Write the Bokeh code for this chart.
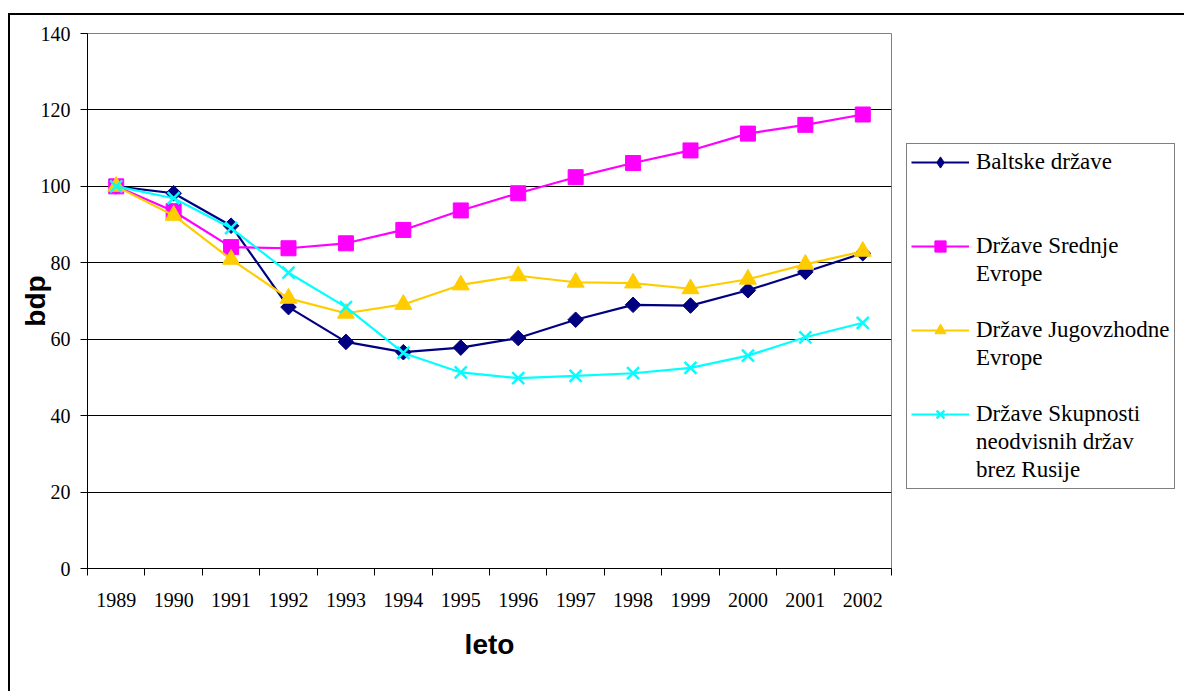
import math
from bokeh.plotting import figure
from bokeh.models import (Range1d, FixedTicker, Legend, LegendItem, InlineStyleSheet)
from bokeh.core.properties import value
from bokeh.embed import file_html
from bokeh.resources import INLINE

years = ["1989", "1990", "1991", "1992", "1993", "1994", "1995",
         "1996", "1997", "1998", "1999", "2000", "2001", "2002"]
baltske = [100, 98.2, 89.7, 68.4, 59.3, 56.6, 57.8, 60.3, 65.1, 69.0, 68.8, 72.8, 77.6, 82.5]
srednje = [100, 93.5, 84.1, 83.8, 85.1, 88.6, 93.7, 98.2, 102.4, 106.1, 109.4, 113.8, 116.1, 118.8]
jugovzhodne = [100, 92.4, 80.9, 70.7, 66.8, 69.1, 74.2, 76.6, 74.9, 74.7, 73.2, 75.7, 79.6, 83.0]
skupnost = [100, 96.9, 89.1, 77.4, 68.4, 56.4, 51.3, 49.8, 50.4, 51.1, 52.5, 55.7, 60.5, 64.3]
y_ticks = [0, 20, 40, 60, 80, 100, 120, 140]

xs = list(range(len(years)))
bounds = [i - 0.5 for i in range(len(years) + 1)]

border_css = InlineStyleSheet(css="""
:host::after {
  content: '';
  position: absolute;
  left: 8px; top: 13px; right: 0; bottom: 0;
  border-top: 2px solid #000;
  border-left: 2px solid #000;
  pointer-events: none;
  z-index: 10;
}
""")

p = figure(frame_width=804, frame_height=535, output_backend="svg", toolbar_location=None,
           x_range=Range1d(-0.5, len(years) - 0.5), y_range=Range1d(0, 140),
           min_border_left=87, min_border_right=293, min_border_top=33, min_border_bottom=123,
           stylesheets=[border_css])
p.outline_line_color = "#808080"
p.outline_line_width = 1

# axes
p.xaxis.ticker = FixedTicker(ticks=xs, minor_ticks=bounds)
p.xaxis.major_label_overrides = {i: y for i, y in zip(xs, years)}
p.xaxis.major_tick_line_color = None
p.xaxis.major_tick_out = 0
p.xaxis.major_tick_in = 0
p.xaxis.minor_tick_line_color = "black"
p.xaxis.minor_tick_out = 7
p.xaxis.minor_tick_in = 0
p.xaxis.major_label_standoff = 17
p.xaxis.axis_label = "leto"
p.xaxis.axis_label_standoff = 19

p.yaxis.ticker = FixedTicker(ticks=y_ticks)
p.yaxis.minor_tick_line_color = None
p.yaxis.major_tick_out = 7
p.yaxis.major_tick_in = 0
p.yaxis.major_label_standoff = 10
p.yaxis.axis_label = "bdp"
p.yaxis.axis_label_standoff = -13

for ax in (p.xaxis, p.yaxis):
    ax.axis_line_color = "black"
    ax.major_label_text_font = "Liberation Serif"
    ax.major_label_text_font_size = "20px"
    ax.major_label_text_color = "black"
    ax.axis_label_text_font = "Liberation Sans"
    ax.axis_label_text_font_style = "bold"
    ax.axis_label_text_font_size = "28px"
    ax.axis_label_text_color = "black"

p.xgrid.grid_line_color = None
p.ygrid.ticker = FixedTicker(ticks=y_ticks[1:-1])
p.ygrid.grid_line_color = "black"
p.ygrid.grid_line_width = 1

# series
series = [
    ("Baltske države", baltske, "#000080", "square", 11, 45),
    ("Države Srednje", srednje, "#FF00FF", "square", 15, 0),
    ("Države Jugovzhodne", jugovzhodne, "#FFCC00", "triangle", 17, 0),
    ("Države Skupnosti", skupnost, "#00FFFF", "x", 17, 0),
]
rend = {}
for name, vals, col, mk, sz, ang in series:
    l = p.line(xs, vals, line_color=col, line_width=2.2)
    if mk == "x":
        s = p.scatter(xs, vals, marker=mk, size=sz, line_color=col, line_width=2.5)
    else:
        s = p.scatter(xs, vals, marker=mk, size=sz, fill_color=col, line_color=col,
                      angle=math.radians(ang))
    rend[name] = [l, s]

# legend-only diamond (legend glyphs ignore marker angle); NaN point draws nothing in plot
nan = float("nan")
leg_diamond = p.scatter(x=[nan], y=[nan], marker="diamond", fill_color="#000080",
                        line_color="#000080", size=14)
dummy = p.line(x=[], y=[], line_alpha=0)

rows = [
    ("Baltske države", [rend["Baltske države"][0], leg_diamond]),
    ("", [dummy]), ("", [dummy]),
    ("Države Srednje", rend["Države Srednje"]),
    ("Evrope", [dummy]), ("", [dummy]),
    ("Države Jugovzhodne", rend["Države Jugovzhodne"]),
    ("Evrope", [dummy]), ("", [dummy]),
    ("Države Skupnosti", rend["Države Skupnosti"]),
    ("neodvisnih držav", [dummy]),
    ("brez Rusije", [dummy]),
]
legend = Legend(items=[LegendItem(label=value(t), renderers=r) for t, r in rows],
                location=(15, 79))
legend.label_text_font = "Liberation Serif"
legend.label_text_font_size = "23px"
legend.label_text_color = "black"
legend.label_height = 28
legend.glyph_height = 28
legend.glyph_width = 58
legend.label_standoff = 7
legend.spacing = 0
legend.padding = 4
legend.margin = 0
legend.border_line_color = "black"
legend.border_line_width = 1
legend.background_fill_color = "white"
legend.background_fill_alpha = 1
legend.inactive_fill_alpha = 0
p.add_layout(legend, "right")

open("out.html", "w").write(file_html(p, INLINE))
